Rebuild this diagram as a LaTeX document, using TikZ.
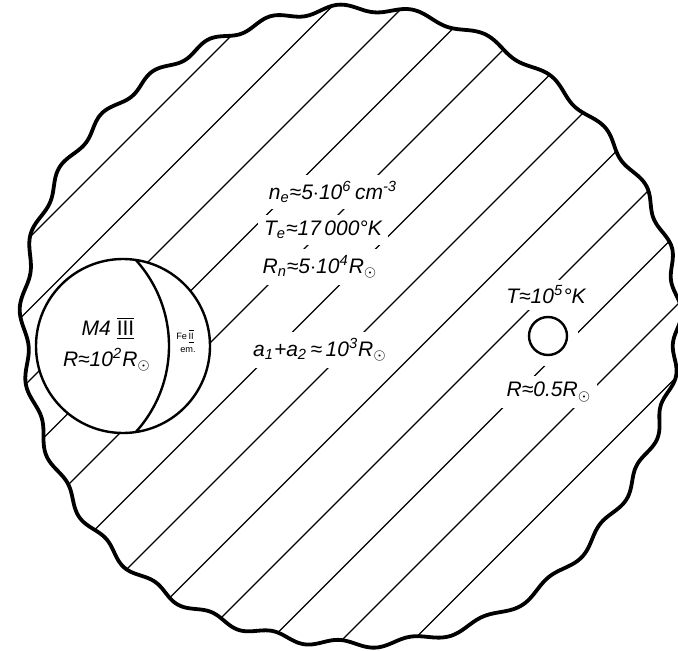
\documentclass[tikz,border=0pt]{standalone}
\usepackage{fontspec}
\setmainfont{Liberation Sans}
\usepackage{tikz}

\newcommand{\Rsun}{R\textsubscript{$\odot$}}
\newcommand{\lumcl}[1]{$\overline{\underline{\hbox{\upshape #1}}}$}
% wavy rim of the nebula, in pixel units
\newcommand{\nebula}{plot[domain=0:359, samples=360, smooth cycle]
  ({349+327*(1+0.012*sin(29*\x+50*sin(3*\x))+0.008*sin(5*\x+40))*cos(\x)},
   {328-318*(1+0.012*sin(29*\x+50*sin(3*\x))+0.008*sin(5*\x+40))*sin(\x)})}

\begin{document}
\begin{tikzpicture}[x=0.5pt, y=-0.5pt,
  lbl/.style={font=\fontsize{10.5}{12}\selectfont\itshape, fill=white, inner sep=3pt},
  lblin/.style={lbl, fill=none, inner sep=1pt},
  tiny/.style={font=\fontsize{4.6}{5}\selectfont, inner sep=0pt},
  hatch/.style={line width=0.6pt},
  rim/.style={line width=1.9pt, line join=round},
  star/.style={line width=1.2pt}
]
\useasboundingbox (0,0) rectangle (678,651);

% hatching
\begin{scope}
  \clip \nebula;
  \foreach \c in {267,338.5,...,1060}
    \draw[hatch] (\c-700,700) -- (\c+50,-50);
\end{scope}

% giant
\node[circle, draw, star, fill=white, minimum size=87pt, inner sep=0pt, outer sep=0pt] (giant) at (123,346) {};
\begin{scope}
  \clip (giant.center) circle[radius=43.5pt];
  \draw[star] (41,346) circle[radius=64pt];
\end{scope}
\node[lblin] (mclass) at (108,328) {M4 \lumcl{III}};
\node[lblin] (rgiant) at (107,360) {R≈10\textsuperscript{2}\Rsun};
\node[tiny] (feii) at (185,336) {Fe\,\lumcl{II}};
\node[tiny] (em) at (188,350) {em.};

% hot component
\fill[white] (548,336) circle[radius=15pt];
\node[circle, draw, star, minimum size=19pt, inner sep=0pt] (dwarf) at (548,336) {};
\node[lbl] (thot) at (546,295) {T≈10\textsuperscript{5}°K};
\node[lbl] (rhot) at (549,392) {R≈0.5\Rsun};

% nebula data
\node[lbl] (dens) at (333,192) {n\textsubscript{e}≈5$\cdot$10\textsuperscript{6}\,cm\textsuperscript{-3}};
\node[lbl] (temp) at (323,230) {T\textsubscript{e}≈17\,000°K};
\node[lbl] (rneb) at (320,267) {R\textsubscript{n}≈5$\cdot$10\textsuperscript{4}\Rsun};
\node[lbl] (sep) at (320,350) {a\textsubscript{1}+a\textsubscript{2}\,≈\,10\textsuperscript{3}\Rsun};

\draw[rim] \nebula;
\end{tikzpicture}
\end{document}
